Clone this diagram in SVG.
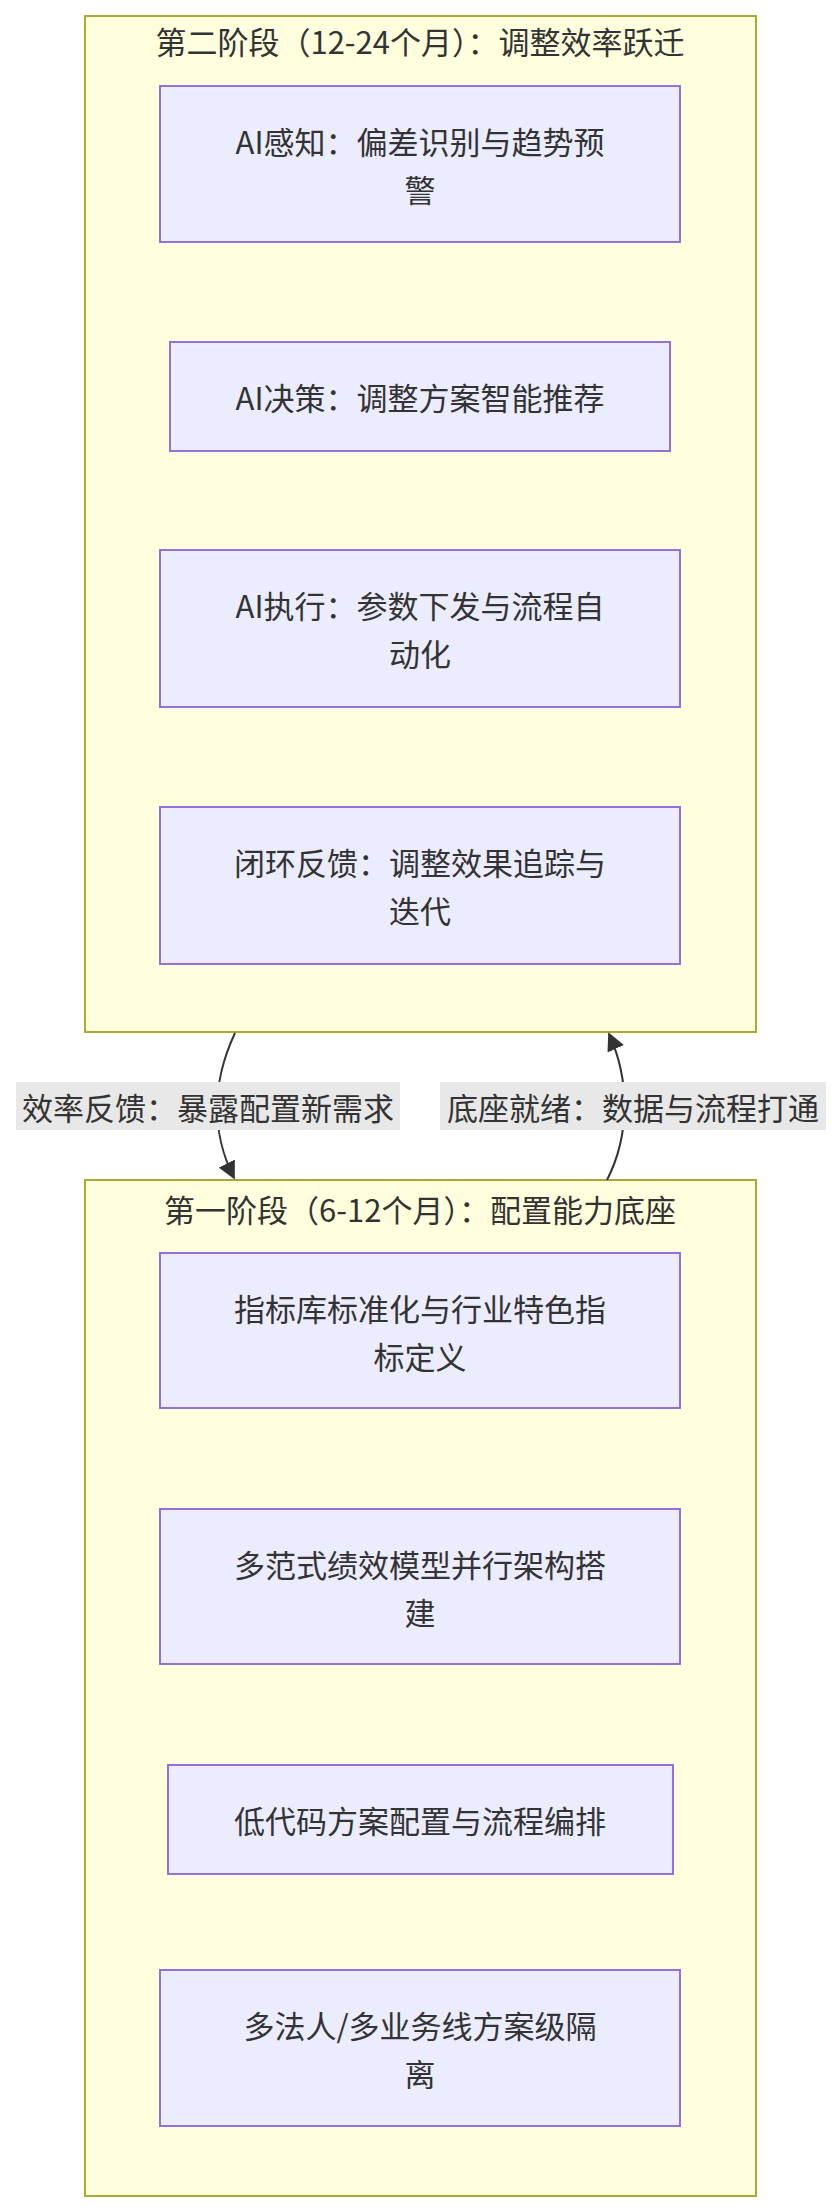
<svg xmlns="http://www.w3.org/2000/svg" width="840" height="2212" viewBox="0 0 840 2212">
<style>
text{font-family:"Noto Sans CJK SC","Liberation Sans",sans-serif;font-size:31px;fill:#333;text-anchor:middle;dominant-baseline:central}
.cl{fill:#ffffde;stroke:#aaaa33;stroke-width:2}
.nd{fill:#ececff;stroke:#9370db;stroke-width:2}
.ed{fill:none;stroke:#333;stroke-width:2}
.lb{fill:#e8e8e8}
</style>
<defs><marker id="ah" viewBox="0 0 10 10" refX="9" refY="5" markerWidth="9" markerHeight="9" orient="auto" markerUnits="userSpaceOnUse"><path d="M0,0L10,5L0,10z" fill="#333"/></marker>
<marker id="a" viewBox="0 0 10 10" refX="9" refY="5" markerWidth="18" markerHeight="18" orient="auto" markerUnits="userSpaceOnUse"><path d="M0,0L10,5L0,10z" fill="#333"/></marker></defs>
<g id="phase2"><rect class="cl" x="85" y="16" width="671" height="1016"/><text x="420" y="40">第二阶段（12-24个月）：调整效率跃迁</text></g>
<g id="phase1"><rect class="cl" x="85" y="1180" width="671" height="1016"/><text x="420" y="1208">第一阶段（6-12个月）：配置能力底座</text></g>
<g id="n1"><rect class="nd" x="160" y="86" width="520" height="156"/><text x="420" y="140">AI感知：偏差识别与趋势预</text><text x="420" y="188">警</text></g>
<g id="n2"><rect class="nd" x="170" y="342" width="500" height="109"/><text x="420" y="396">AI决策：调整方案智能推荐</text></g>
<g id="n3"><rect class="nd" x="160" y="550" width="520" height="157"/><text x="420" y="604">AI执行：参数下发与流程自</text><text x="420" y="652">动化</text></g>
<g id="n4"><rect class="nd" x="160" y="807" width="520" height="157"/><text x="420" y="861">闭环反馈：调整效果追踪与</text><text x="420" y="909">迭代</text></g>
<g id="n5"><rect class="nd" x="160" y="1253" width="520" height="155"/><text x="420" y="1307">指标库标准化与行业特色指</text><text x="420" y="1355">标定义</text></g>
<g id="n6"><rect class="nd" x="160" y="1509" width="520" height="155"/><text x="420" y="1563">多范式绩效模型并行架构搭</text><text x="420" y="1611">建</text></g>
<g id="n7"><rect class="nd" x="168" y="1765" width="505" height="109"/><text x="420" y="1819">低代码方案配置与流程编排</text></g>
<g id="n8"><rect class="nd" x="160" y="1970" width="520" height="156"/><text x="420" y="2024">多法人/多业务线方案级隔</text><text x="420" y="2072">离</text></g>
<g id="edges">
<path class="ed" d="M235,1033 C213,1080 210,1130 234,1178" marker-end="url(#a)"/>
<path class="ed" d="M607,1180 C630,1135 630,1080 609,1034" marker-end="url(#a)"/>
<rect class="lb" x="16" y="1082" width="384" height="48"/><text x="208" y="1106">效率反馈：暴露配置新需求</text>
<rect class="lb" x="440" y="1082" width="386" height="48"/><text x="633" y="1106">底座就绪：数据与流程打通</text>
</g>
</svg>
